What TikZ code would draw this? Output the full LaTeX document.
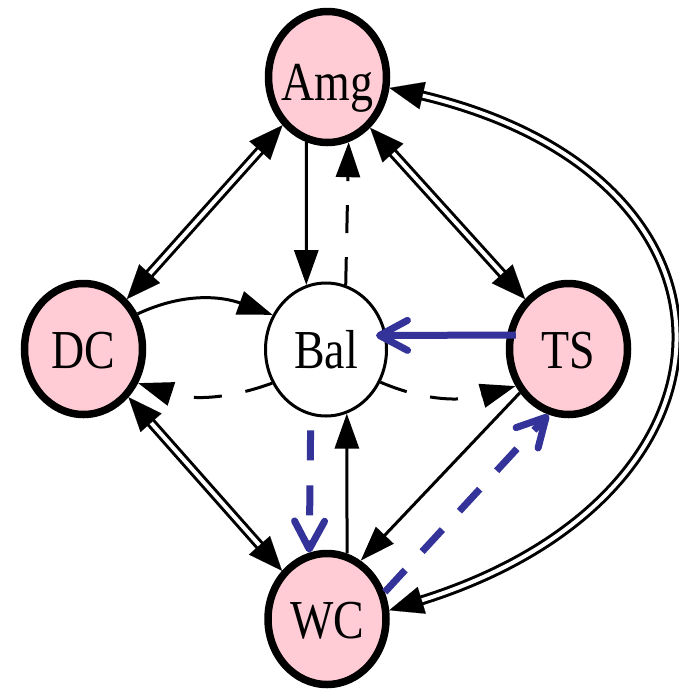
\documentclass[tikz,border=0pt]{standalone}
\usepackage{fontspec}
\setmainfont{Liberation Serif}
\usetikzlibrary{arrows.meta,shapes.geometric}
\definecolor{nodepink}{RGB}{255,204,213}
\definecolor{pblue}{RGB}{51,51,153}
\newcommand\ntxt[2][-19pt]{\smash{\makebox[0pt]{\raisebox{#1}{\scalebox{1.02}[1.22]{\fontsize{45}{50}\selectfont #2}}}}}
\begin{document}
\begin{tikzpicture}[x=1pt,y=1pt,
  pk/.style={ellipse, draw=black, line width=7.5pt, fill=nodepink, minimum width=118pt, minimum height=131pt, inner sep=0pt},
  wh/.style={ellipse, draw=black, line width=3pt, fill=white, minimum width=121pt, minimum height=133pt, inner sep=0pt},
  arr/.style={line width=3pt, -{Triangle[length=35pt,width=24pt]}},
  darr/.style={arr, dash pattern=on 28pt off 24pt},
  dblline/.style={draw, line width=3pt, double=white, double distance=4pt, shorten <=29pt, shorten >=29pt},
  dbltip/.style={draw=white, line width=0.1pt, {Triangle[length=34pt,width=28pt,color=black]}-{Triangle[length=34pt,width=28pt,color=black]}},
  blarr/.style={draw=pblue, line width=7pt, -{Straight Barb[length=28pt,width=30pt,line cap=round,line join=round]}},
  bldash/.style={blarr, dash pattern=on 30pt off 25pt}
]
\useasboundingbox (0,0) rectangle (679,-691);
\fill[white] (0,0) rectangle (679,-691);

\node[pk] (Amg) at (327.5,-77) {\ntxt[-23pt]{Amg}};
\node[pk] (DC) at (83.5,-349) {\ntxt{DC}};
\node[wh] (Bal) at (326,-349.5) {\ntxt{Bal}};
\node[pk] (TS) at (568.5,-349) {\ntxt{TS}};
\node[pk] (WC) at (327,-619) {\ntxt{WC}};

% double connectors
\draw[dblline] (DC.49) -- (Amg.227);
\draw[dbltip] (DC.49) -- (Amg.227);
\draw[dblline] (Amg.310) -- (TS.131);
\draw[dbltip] (Amg.310) -- (TS.131);
\draw[dblline] (DC.313) -- (WC.133);
\draw[dbltip] (DC.313) -- (WC.133);
\draw[dblline] (Amg.350) to[out=-13,in=17,looseness=1.9] (WC.8);
\draw[dbltip] (Amg.350) to[out=-13,in=17,looseness=1.9] (WC.8);

% single connectors
\draw[arr] (Amg.252) -- (Bal.107);
\draw[darr] (Bal.73) -- (Amg.288);
\draw[arr] (WC.73) -- (Bal.288);
\draw[arr] (TS.222) -- (WC.60);
\draw[arr] (DC.33) to[out=25,in=160] (Bal.147);
\draw[darr] (Bal.212) to[out=200,in=-18] (DC.328);
\draw[darr] (Bal.329) to[out=-23,in=196] (TS.215);

% blue connectors
\draw[blarr] ([xshift=10pt,yshift=14pt]TS.west) -- ([xshift=-12pt,yshift=14pt]Bal.east);
\draw[bldash, shorten <=15pt] (Bal.257) -- (WC.105);
\draw[bldash] (WC.25) -- (TS.253);
\end{tikzpicture}
\end{document}
